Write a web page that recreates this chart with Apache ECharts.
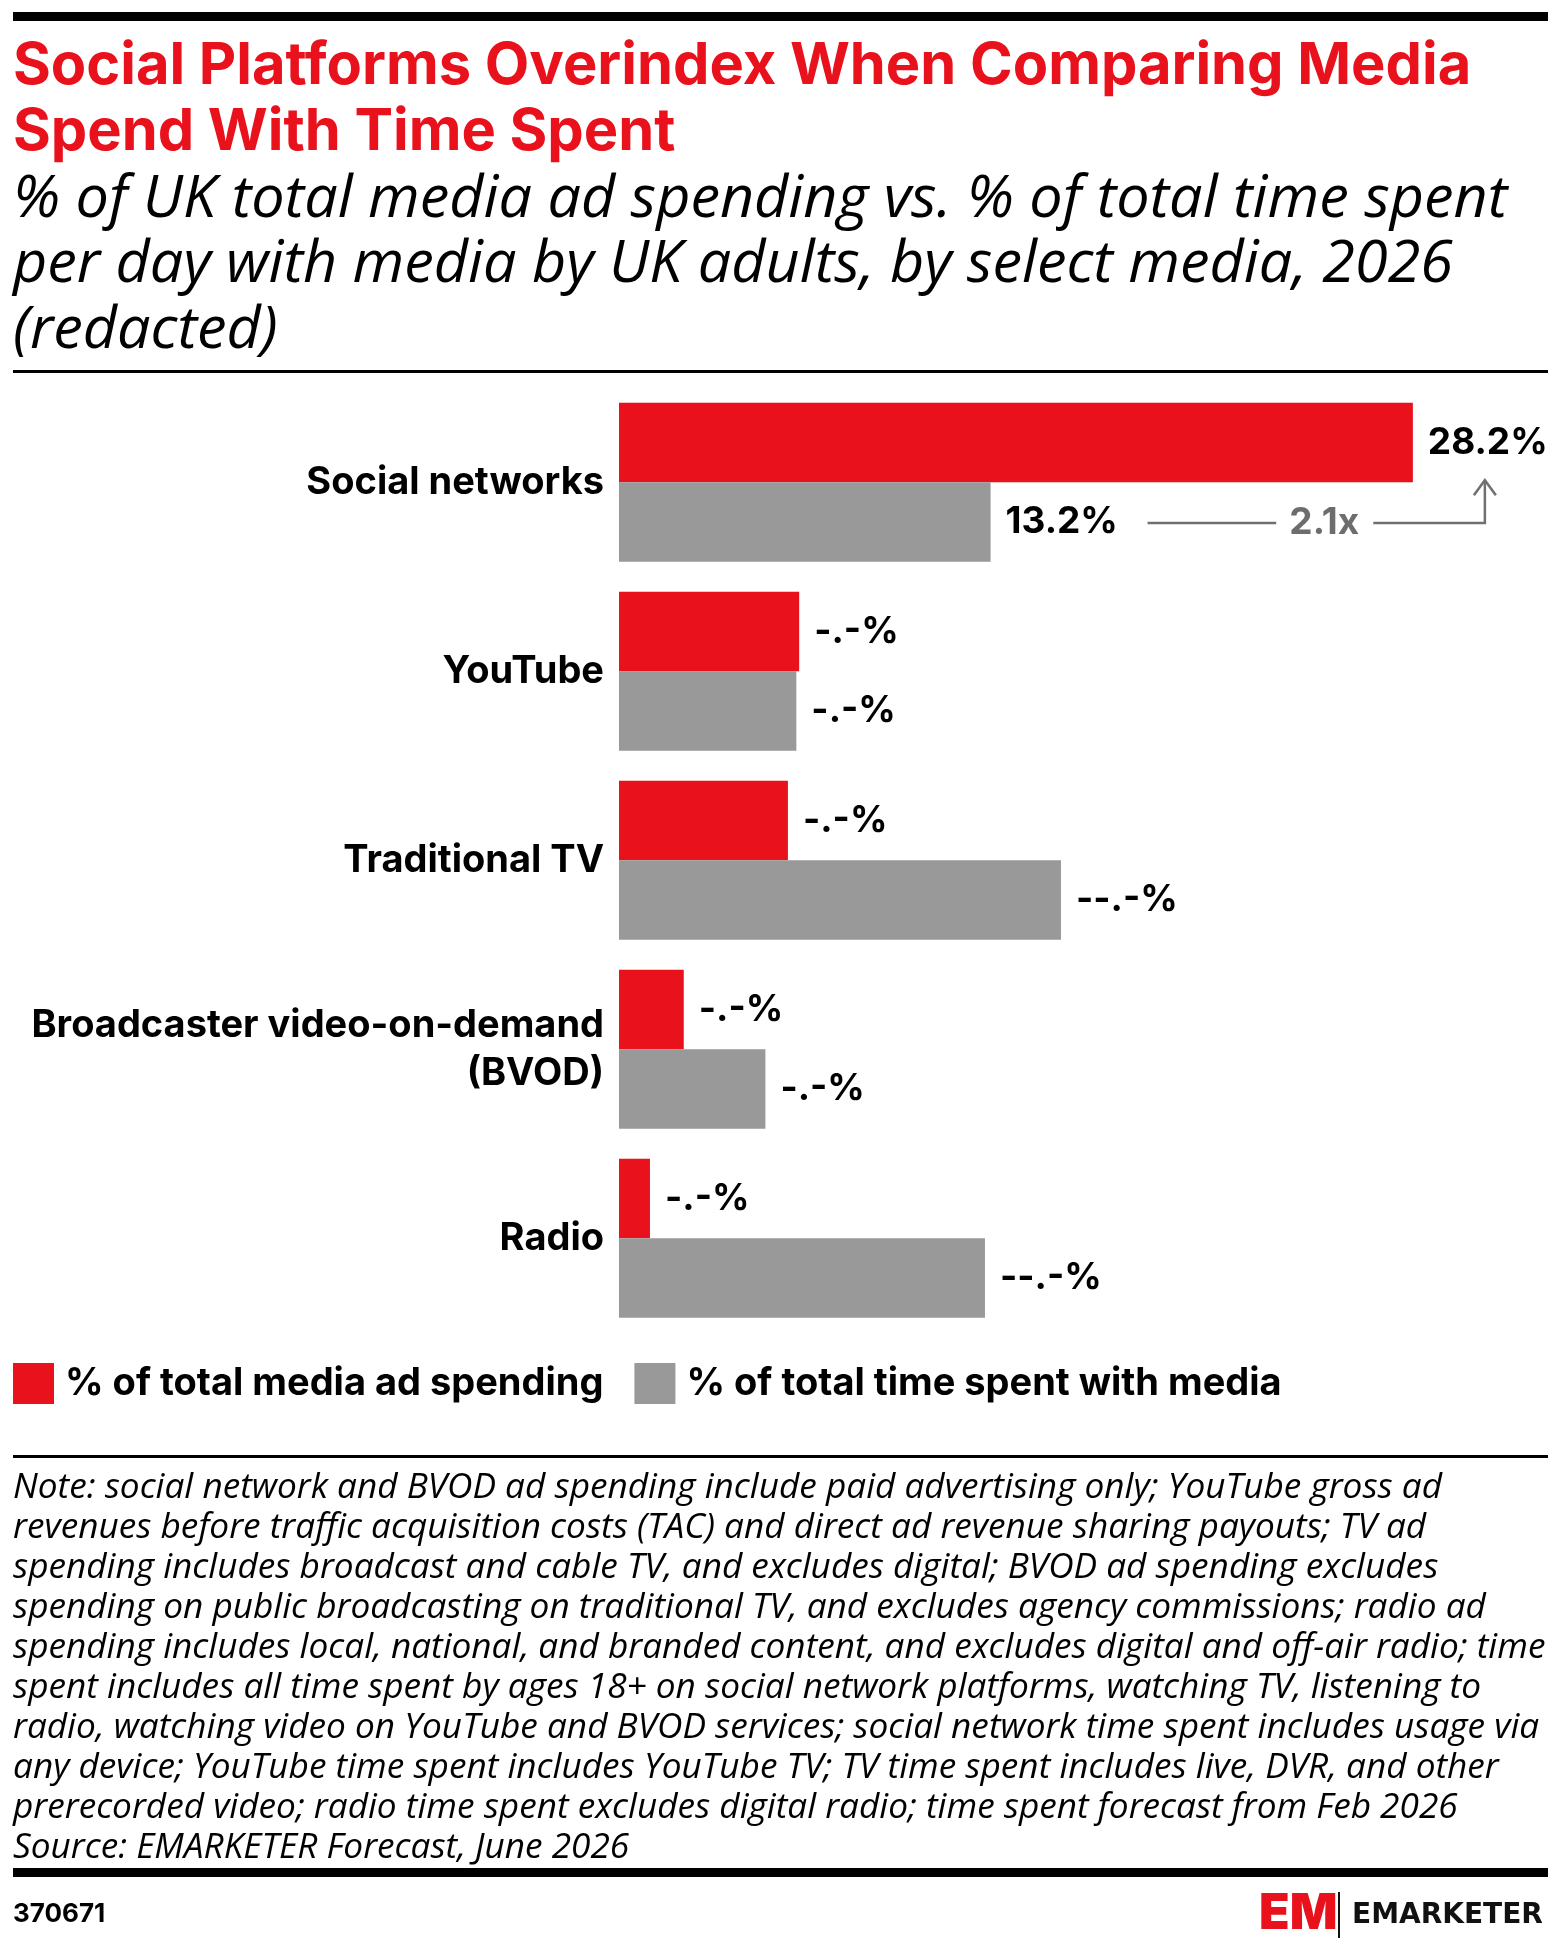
<!DOCTYPE html>
<html>
<head>
<meta charset="utf-8">
<title>Social Platforms Overindex When Comparing Media Spend With Time Spent</title>
<script src="https://cdn.jsdelivr.net/npm/echarts@6/dist/echarts.min.js"></script>
<style>
  html, body { margin: 0; padding: 0; background: #fff; }
  #chart { width: 1558px; height: 1953px; }
</style>
</head>
<body>
<div id="chart"></div>
<script>
// data read off the reference (redacted values are estimated from bar lengths)
var categories = ['Social networks', 'YouTube', 'Traditional TV', 'Broadcaster video-on-demand\n(BVOD)', 'Radio'];
var adSpendShare = [28.2, 6.4, 6.0, 2.3, 1.1];
var timeSpentShare = [13.2, 6.3, 15.7, 5.2, 13.0];
var adSpendLabels = ['28.2%', '-.-%', '-.-%', '-.-%', '-.-%'];
var timeSpentLabels = ['13.2%', '-.-%', '--.-%', '-.-%', '--.-%'];
var seriesNames = ['% of total media ad spending', '% of total time spent with media'];
var ratioLabel = '2.1x';

var noteLines = [
  'Note: social network and BVOD ad spending include paid advertising only; YouTube gross ad',
  'revenues before traffic acquisition costs (TAC) and direct ad revenue sharing payouts; TV ad',
  'spending includes broadcast and cable TV, and excludes digital; BVOD ad spending excludes',
  'spending on public broadcasting on traditional TV, and excludes agency commissions; radio ad',
  'spending includes local, national, and branded content, and excludes digital and off-air radio; time',
  'spent includes all time spent by ages 18+ on social network platforms, watching TV, listening to',
  'radio, watching video on YouTube and BVOD services; social network time spent includes usage via',
  'any device; YouTube time spent includes YouTube TV; TV time spent includes live, DVR, and other',
  'prerecorded video; radio time spent excludes digital radio; time spent forecast from Feb 2026',
  'Source: EMARKETER Forecast, June 2026'
];

var RED = '#e8111c';
var GRAY = '#999999';
var BOLD_FONT = 'Inter, Roboto, sans-serif';
var ITALIC_FONT = '"Open Sans", Roboto, sans-serif';

var barW = 79.5;

var chart = echarts.init(document.getElementById('chart'));

var option = {
  animation: false,
  backgroundColor: '#fff',
  title: [
    {
      left: 13,
      top: 34,
      padding: 0,
      text: 'Social Platforms Overindex When Comparing Media\nSpend With Time Spent',
      textStyle: { color: RED, fontSize: 57.8, fontWeight: 'bold', lineHeight: 66, fontFamily: BOLD_FONT }
    },
    {
      left: 13,
      top: 167,
      padding: 0,
      text: '% of UK total media ad spending vs. % of total time spent\nper day with media by UK adults, by select media, 2026\n(redacted)',
      textStyle: { color: '#000', fontSize: 59.3, fontStyle: 'italic', fontWeight: 'normal', lineHeight: 65.5, fontFamily: ITALIC_FONT }
    }
  ],
  legend: {
    left: 13,
    top: 1363,
    padding: 0,
    icon: 'rect',
    itemWidth: 41,
    itemHeight: 41,
    itemGap: 31,
    selectedMode: false,
    data: seriesNames,
    textStyle: { color: '#000', fontSize: 38, fontWeight: 'bold', fontFamily: BOLD_FONT, padding: [0, 0, 0, 6] }
  },
  grid: { left: 619, top: 387.7, width: 929, height: 945 },
  xAxis: { type: 'value', min: 0, max: 33, show: false },
  yAxis: {
    type: 'category',
    inverse: true,
    data: categories,
    axisLine: { show: false },
    axisTick: { show: false },
    axisLabel: { color: '#000', fontSize: 38, fontWeight: 'bold', fontFamily: BOLD_FONT, margin: 15, lineHeight: 48 }
  },
  series: [
    {
      name: seriesNames[0],
      type: 'bar',
      data: adSpendShare,
      barWidth: barW,
      barGap: '0%',
      itemStyle: { color: RED },
      label: {
        show: true, position: 'right', distance: 15,
        color: '#000', fontSize: 37, fontWeight: 'bold', fontFamily: BOLD_FONT,
        formatter: function (p) { return adSpendLabels[p.dataIndex]; }
      }
    },
    {
      name: seriesNames[1],
      type: 'bar',
      data: timeSpentShare,
      barWidth: barW,
      itemStyle: { color: GRAY },
      label: {
        show: true, position: 'right', distance: 15,
        color: '#000', fontSize: 37, fontWeight: 'bold', fontFamily: BOLD_FONT,
        formatter: function (p) { return timeSpentLabels[p.dataIndex]; }
      }
    }
  ]
};

chart.setOption(option);

// ratio annotation between the two social network bars
var catY = chart.convertToPixel({ yAxisIndex: 0 }, 0);
var startX = chart.convertToPixel({ xAxisIndex: 0 }, timeSpentShare[0]) + 157;
var endX = chart.convertToPixel({ xAxisIndex: 0 }, adSpendShare[0]) + 72;
var midX = (startX + endX) / 2 + 8;
var lineY = catY + barW / 2 + 1;
var tipY = catY - 2;
var annoStyle = { stroke: '#707070', lineWidth: 2.5, fill: null };

chart.setOption({
  graphic: [
    // rules
    { type: 'rect', shape: { x: 13, y: 12, width: 1535, height: 9 }, style: { fill: '#000' } },
    { type: 'rect', shape: { x: 13, y: 370, width: 1535, height: 3 }, style: { fill: '#000' } },
    { type: 'rect', shape: { x: 13, y: 1455, width: 1535, height: 3 }, style: { fill: '#000' } },
    { type: 'rect', shape: { x: 13, y: 1868, width: 1535, height: 9 }, style: { fill: '#000' } },

    // annotation
    { type: 'line', shape: { x1: startX, y1: lineY, x2: midX - 48, y2: lineY }, style: annoStyle },
    { type: 'polyline', shape: { points: [[midX + 49, lineY], [endX, lineY], [endX, tipY]] }, style: annoStyle },
    { type: 'polyline', shape: { points: [[endX - 11, tipY + 15], [endX, tipY], [endX + 11, tipY + 15]] }, style: annoStyle },
    {
      type: 'text', x: midX, y: lineY,
      style: { text: ratioLabel, fill: '#6d6d6d', font: 'bold 37px ' + BOLD_FONT, textAlign: 'center', textVerticalAlign: 'middle' }
    },

    // notes and source
    {
      type: 'text', x: 13, y: 1467.5,
      style: { text: noteLines.join('\n'), fill: '#000', font: 'italic 35.2px ' + ITALIC_FONT, lineHeight: 40, textVerticalAlign: 'top' }
    },

    // footer
    {
      type: 'text', x: 13, y: 1927,
      style: { text: '370671', fill: '#000', font: 'bold 26px ' + BOLD_FONT, textVerticalAlign: 'bottom' }
    },
    {
      type: 'text', x: 1259, y: 1939,
      style: { text: 'EM', fill: RED, font: '900 50px ' + BOLD_FONT, textVerticalAlign: 'bottom' }
    },
    { type: 'rect', shape: { x: 1338, y: 1892, width: 2, height: 46 }, style: { fill: '#111' } },
    {
      type: 'text', x: 1352, y: 1930,
      style: { text: 'EMARKETER', fill: '#111', font: 'bold 28px "DejaVu Sans", sans-serif', textVerticalAlign: 'bottom' }
    }
  ]
});
</script>
</body>
</html>
